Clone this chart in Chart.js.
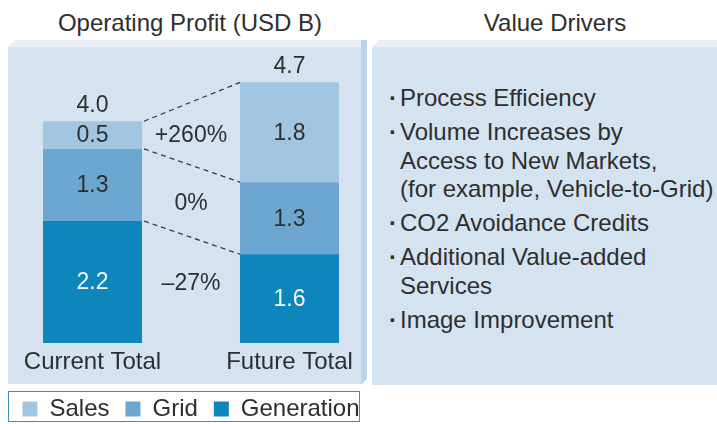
<!DOCTYPE html>
<html>
<head>
<meta charset="utf-8">
<script src="https://cdn.jsdelivr.net/npm/chart.js@4.4.1/dist/chart.umd.min.js"></script>
<style>
  body { margin: 0; width: 717px; height: 424px; overflow: hidden; background: #fff;
         font-family: "Liberation Sans", Arial, sans-serif; color: #2e2e2e; position: relative; }
  .title { position: absolute; top: 9px; font-size: 24px; line-height: 28px; white-space: nowrap; transform: translateX(-50%); }
  .panel { position: absolute; background: #d5e3f0; }
  .bevel-top { position: absolute; background: #e8eff7; clip-path: polygon(0 100%, 7px 0, 100% 0, 100% 100%); }
  .bevel-side { position: absolute; background: #bcd4ea; clip-path: polygon(0 0, 100% 0, 100% calc(100% - 6px), 0 100%); }
  #legendBox { position: absolute; left: 8px; top: 391px; width: 350px; height: 29px; border: 1.5px solid #3d8fc1; }
  #chartWrap { position: absolute; left: -26px; top: 0; width: 414px; height: 431px; z-index: 2; }
  ul { position: absolute; left: 391px; top: 84px; margin: 0; padding: 0; list-style: none;
       font-size: 24px; line-height: 28.5px; }
  li { position: relative; padding-left: 9px; margin-bottom: 5.5px; white-space: nowrap; }
  li::before { content: "\00B7"; position: absolute; left: -2px; top: 0; font-weight: bold; }
</style>
</head>
<body>
<div class="title" style="left:190px">Operating Profit (USD B)</div>
<div class="title" style="left:555px">Value Drivers</div>

<div class="bevel-top" style="left:8px; top:40px; width:353px; height:7px"></div>
<div class="bevel-side" style="left:361px; top:40px; width:6px; height:345px"></div>
<div class="panel" style="left:8px; top:47px; width:353px; height:337px"></div>

<div class="bevel-top" style="left:372px; top:40px; width:345px; height:7px"></div>
<div class="panel" style="left:372px; top:47px; width:345px; height:338px"></div>
<ul id="drivers"></ul>

<div id="legendBox"></div>
<div id="chartWrap"><canvas id="chartProfit"></canvas></div>

<script>
'use strict';

// data
const categories = ['Current Total', 'Future Total'];
const segments = ['Generation', 'Grid', 'Sales'];
const generation = [2.2, 1.6];
const grid = [1.3, 1.3];
const sales = [0.5, 1.8];
const changes = ['\u201327%', '0%', '+260%'];
const drivers = [
  'Process Efficiency',
  'Volume Increases by\nAccess to New Markets,\n(for example, Vehicle-to-Grid)',
  'CO2 Avoidance Credits',
  'Additional Value-added\nServices',
  'Image Improvement'
];

const colors = ['#0d86bb', '#6ea6d2', '#a2c5e2'];
const textColor = '#2e2e2e';
const fontFamily = '"Liberation Sans", Arial, sans-serif';

// value drivers list
const list = document.getElementById('drivers');
drivers.forEach(d => {
  const li = document.createElement('li');
  li.innerHTML = d.split('\n').join('<br>');
  list.appendChild(li);
});

const fmt = v => v.toFixed(1);

// dashed connectors, segment values, totals and change labels
const overlayPlugin = {
  id: 'overlay',
  afterDatasetsDraw(chart) {
    const ctx = chart.ctx;
    const metas = chart.data.datasets.map((_, i) => chart.getDatasetMeta(i));
    ctx.save();

    // connectors between segment tops
    ctx.strokeStyle = '#2e2e2e';
    ctx.lineWidth = 1.2;
    ctx.setLineDash([5, 4]);
    metas.forEach(m => {
      const a = m.data[0], b = m.data[1];
      ctx.beginPath();
      ctx.moveTo(a.x + a.width / 2 + 2, a.y);
      ctx.lineTo(b.x - b.width / 2, b.y);
      ctx.stroke();
    });
    ctx.setLineDash([]);

    ctx.font = '23px ' + fontFamily;
    ctx.textAlign = 'center';
    ctx.textBaseline = 'middle';

    // segment values
    metas.forEach((m, i) => {
      const vals = chart.data.datasets[i].data;
      m.data.forEach((el, j) => {
        ctx.fillStyle = i === 0 ? '#f4f8fc' : textColor;
        ctx.fillText(fmt(vals[j]), el.x, (el.y + el.base) / 2 + 1);
      });
    });

    // totals above bars
    ctx.fillStyle = textColor;
    const top = metas[metas.length - 1];
    categories.forEach((c, j) => {
      const total = chart.data.datasets.reduce((s, ds) => s + ds.data[j], 0);
      ctx.fillText(fmt(total), top.data[j].x, top.data[j].y - 16);
    });

    // change labels between the bars
    const midX = (metas[0].data[0].x + metas[0].data[1].x) / 2;
    let lower = 0;
    metas.forEach((m, i) => {
      const upper = (m.data[0].y + m.data[1].y) / 2;
      let cy = (lower + upper) / 2;
      if (i === 0) cy = (m.data[0].y + m.data[0].base) / 2;
      ctx.fillText(changes[i], midX, cy + 2);
      lower = upper;
    });
    ctx.restore();
  }
};

new Chart(document.getElementById('chartProfit'), {
  type: 'bar',
  data: {
    labels: categories,
    datasets: [
      { label: segments[0], data: generation, backgroundColor: colors[0] },
      { label: segments[1], data: grid, backgroundColor: colors[1] },
      { label: segments[2], data: sales, backgroundColor: colors[2] }
    ]
  },
  options: {
    responsive: true,
    maintainAspectRatio: false,
    animation: false,
    layout: { padding: { top: 38, bottom: 0, left: 20, right: 0 } },
    datasets: { bar: { categoryPercentage: 1, barPercentage: 0.5025, borderWidth: 0 } },
    scales: {
      x: {
        stacked: true,
        grid: { display: false, drawTicks: false },
        border: { display: false },
        ticks: { color: textColor, padding: 7, font: { family: fontFamily, size: 24, lineHeight: 1.0 } }
      },
      y: { stacked: true, display: false, min: 0, max: 5.5 }
    },
    plugins: {
      legend: {
        position: 'bottom',
        reverse: true,
        labels: {
          color: textColor,
          boxWidth: 15,
          boxHeight: 15,
          padding: 16,
          font: { family: fontFamily, size: 24 }
        }
      },
      tooltip: { enabled: false }
    }
  },
  plugins: [overlayPlugin]
});
</script>
</body>
</html>
